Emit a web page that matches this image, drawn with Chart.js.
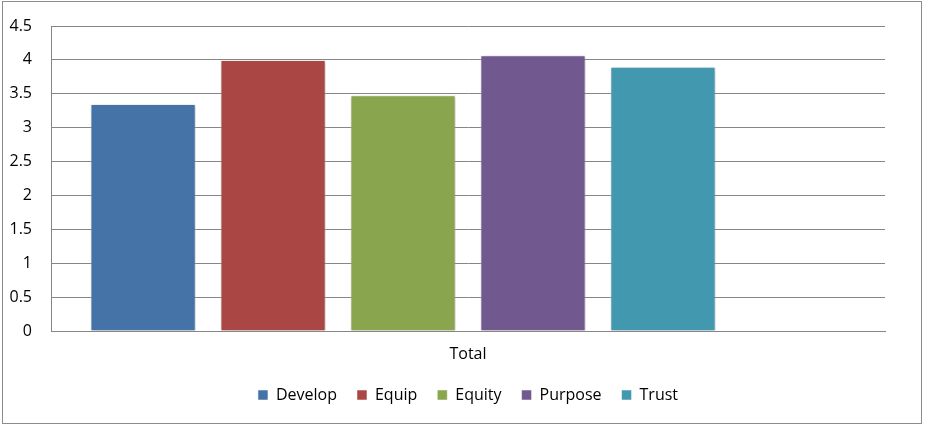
<!DOCTYPE html>
<html lang="en">
<head>
    <meta charset="UTF-8">
    <title>Total</title>
    <script src="https://cdn.jsdelivr.net/npm/chart.js"></script>
    <style>
        html, body { margin: 0; padding: 0; background: #fff; }
        #wrap { width: 926px; height: 425px; }
    </style>
</head>
<body>
<div id="wrap"><canvas id="totalChart" width="926" height="425"></canvas></div>
<script>
    // Data
    const categories = ['Total'];
    const seriesNames = ['Develop', 'Equip', 'Equity', 'Purpose', 'Trust'];
    const seriesValues = [3.35, 4.0, 3.48, 4.07, 3.9];
    const seriesColors = ['#4572A7', '#AA4643', '#89A54E', '#71588F', '#4198AF'];
    const yTicks = [0, 0.5, 1, 1.5, 2, 2.5, 3, 3.5, 4, 4.5];

    const axisColor = '#868686';
    const fontFamily = '"Open Sans", sans-serif';

    const datasets = seriesNames.map((name, i) => ({
        label: name,
        data: [seriesValues[i]],
        backgroundColor: seriesColors[i],
        borderColor: 'rgba(255,255,255,0.5)',
        borderWidth: 1,
        borderSkipped: 'bottom'
    }));
    // empty slot on the right, like the original sheet
    datasets.push({ label: '', data: [null], backgroundColor: 'transparent' });

    // frame around the chart, legend centred under the plot, soft bar shadow
    const framePlugin = {
        id: 'frame',
        afterLayout(chart) {
            const lg = chart.legend, area = chart.chartArea;
            const shift = (area.left + area.right) / 2 - (lg.left + lg.right) / 2;
            lg.left += shift;
            lg.right += shift;
        },
        beforeDraw(chart) {
            const ctx = chart.ctx;
            ctx.save();
            ctx.fillStyle = '#fff';
            ctx.fillRect(0, 0, chart.width, chart.height);
            ctx.strokeStyle = '#8c8c8c';
            ctx.lineWidth = 1;
            ctx.strokeRect(2.5, 1.5, 919, 422);
            ctx.restore();
        },
        beforeDatasetsDraw(chart) {
            const ctx = chart.ctx;
            ctx.save();
            ctx.shadowColor = 'rgba(0,0,0,0.25)';
            ctx.shadowBlur = 4;
            ctx.shadowOffsetX = 1;
            ctx.shadowOffsetY = 1;
        },
        afterDatasetsDraw(chart) {
            chart.ctx.restore();
        }
    };

    new Chart(document.getElementById('totalChart'), {
        type: 'bar',
        data: { labels: categories, datasets: datasets },
        options: {
            responsive: false,
            animation: false,
            layout: { padding: { left: 3, right: 41, top: 26, bottom: 12 } },
            datasets: { bar: { categoryPercentage: 0.935, barPercentage: 0.81 } },
            scales: {
                x: {
                    afterFit(scale) { scale.height = 36; },
                    grid: { display: false, drawTicks: false },
                    border: { display: true, color: axisColor, width: 1 },
                    ticks: { color: '#000', font: { family: fontFamily, size: 16 }, padding: 14 }
                },
                y: {
                    min: 0,
                    max: 4.5,
                    afterBuildTicks(scale) { scale.ticks = yTicks.map(v => ({ value: v })); },
                    afterFit(scale) {
                        scale.width = 48;
                        scale.paddingTop = 0;
                        scale.paddingBottom = 0;
                    },
                    grid: { color: axisColor, drawTicks: false },
                    border: { display: true, color: axisColor, width: 1 },
                    ticks: {
                        color: '#000',
                        font: { family: fontFamily, size: 16 },
                        padding: 19,
                        callback: v => String(v)
                    }
                }
            },
            plugins: {
                legend: {
                    position: 'bottom',
                    labels: {
                        color: '#000',
                        font: { family: fontFamily, size: 16 },
                        boxWidth: 10,
                        boxHeight: 10,
                        padding: 20,
                        filter: item => item.text !== ''
                    }
                },
                tooltip: { enabled: false }
            }
        },
        plugins: [framePlugin]
    });
</script>
</body>
</html>
